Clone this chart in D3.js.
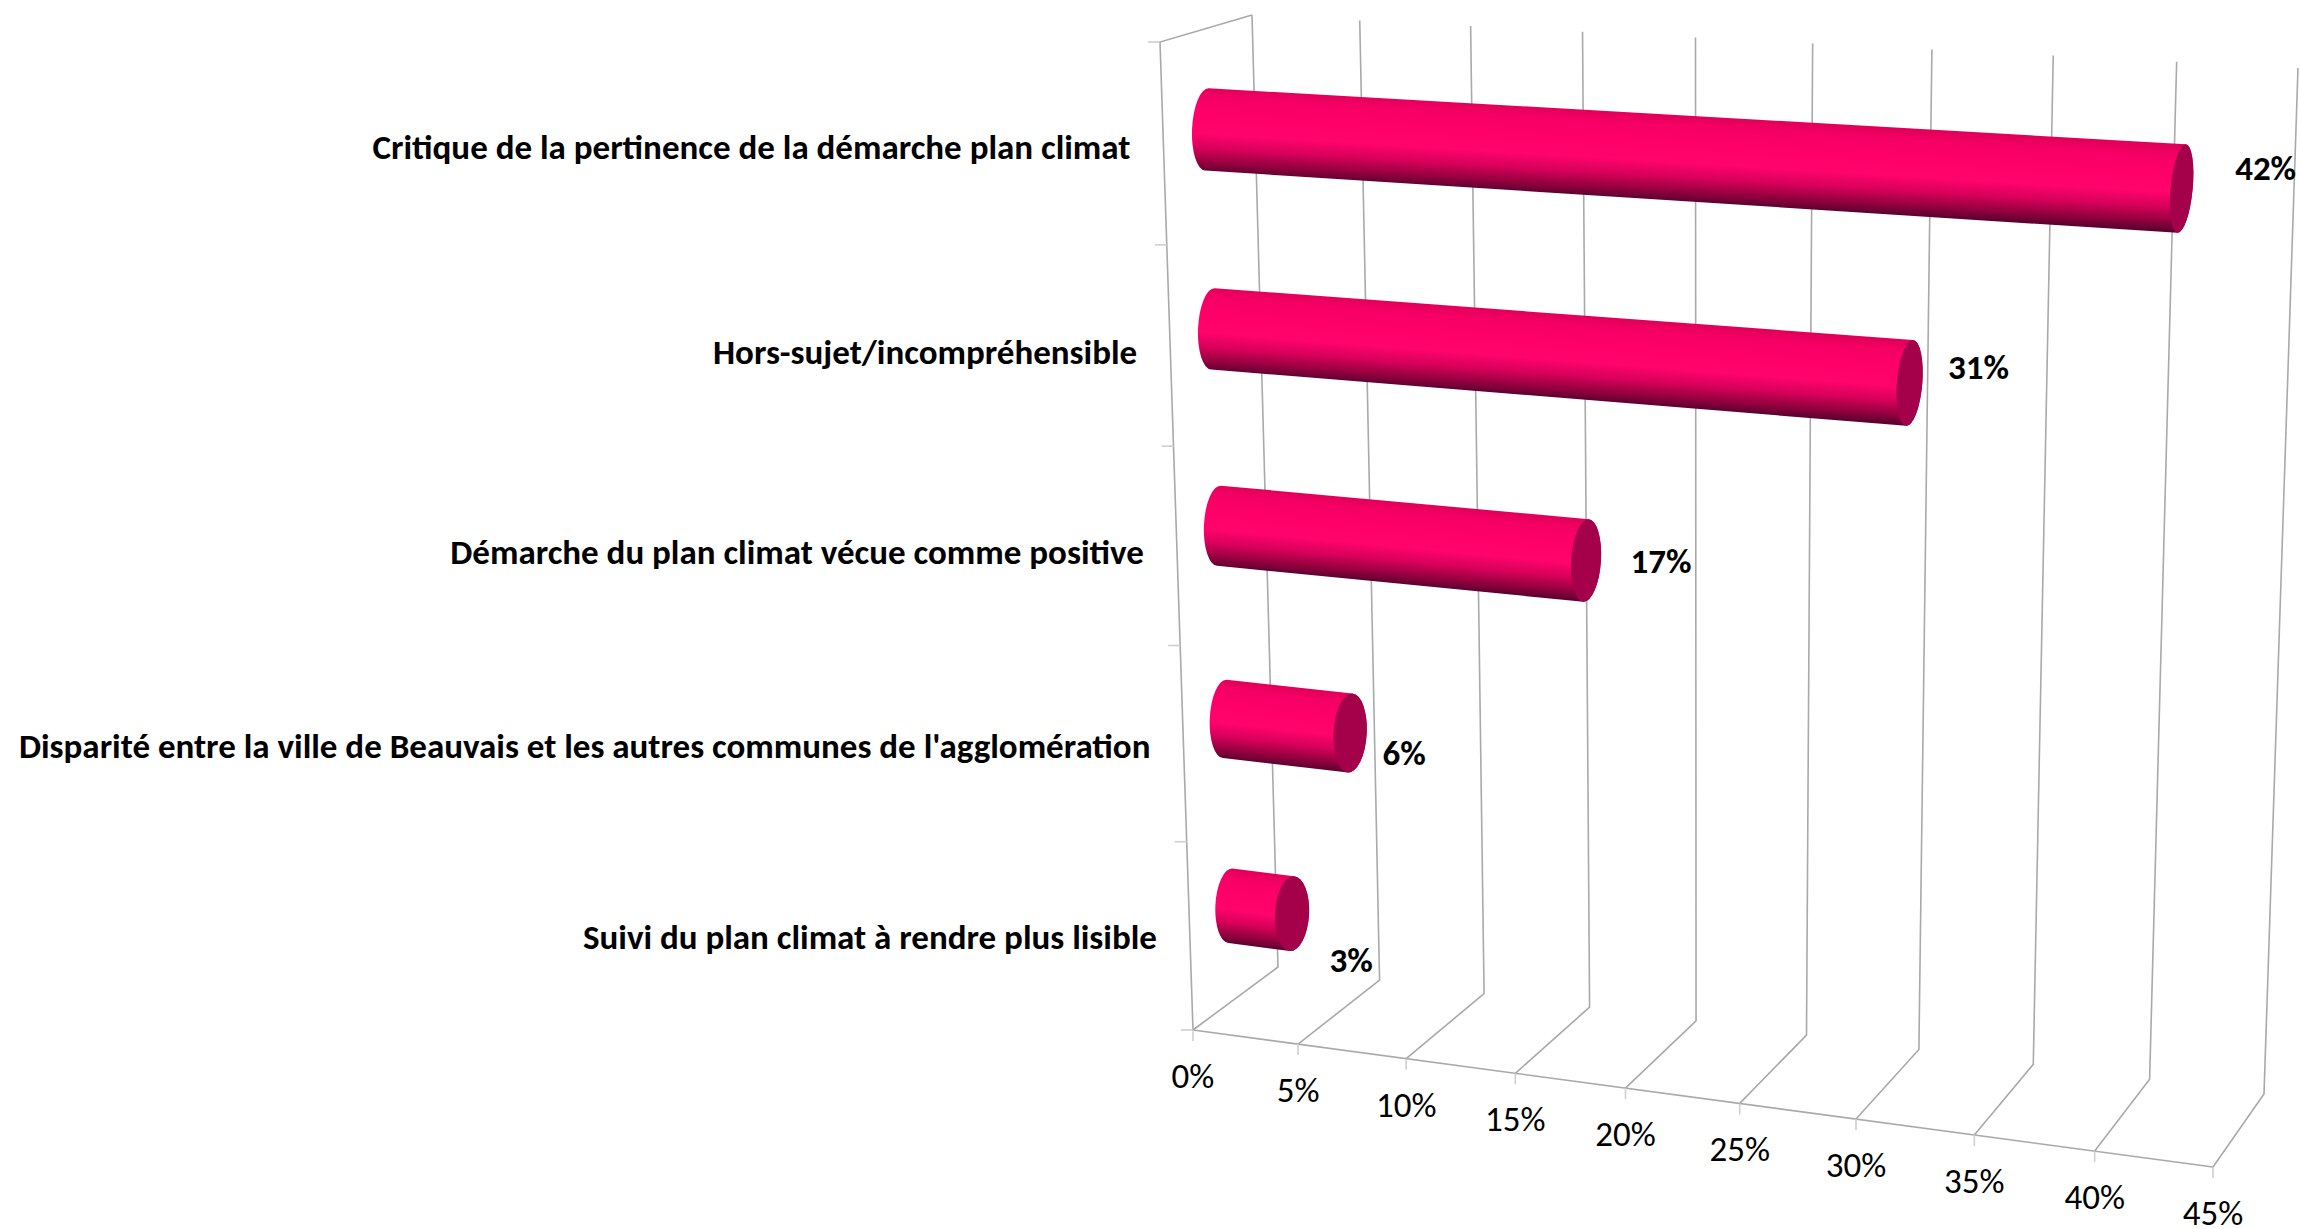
<!DOCTYPE html>
<html><head><meta charset="utf-8">
<script src="https://cdn.jsdelivr.net/npm/d3@7/dist/d3.min.js"></script>
<style>html,body{margin:0;padding:0;background:#fff}svg{display:block}
text{font-family:Carlito,Calibri,Lato,sans-serif;fill:#000}</style></head><body>
<div id="chart"></div>
<script>
const categories = [
  "Critique de la pertinence de la démarche plan climat",
  "Hors-sujet/incompréhensible",
  "Démarche du plan climat vécue comme positive",
  "Disparité entre la ville de Beauvais et les autres communes de l'agglomération",
  "Suivi du plan climat à rendre plus lisible"
];
const values = [42, 31, 17, 6, 3];
const valueTicks = [0, 5, 10, 15, 20, 25, 30, 35, 40, 45];
const W = 2300, H = 1229;

// Oblique projection of the box: each plane is its four screen corners [v0k0, v1k0, v1k1, v0k1]
const floorPlane = [[1193,1030],[2213,1167],[2264,1094],[1278,967]];
const wallPlane  = [[1278,967],[2264,1094],[2298,68],[1252,15]];
const sidePlane  = [[1193,1030],[1278,967],[1252,15],[1160,42]];
const barPlane   = [[1233,993],[2225,1129],[2258,84],[1204,29]];
// Foreshortening along the value axis
const u = d3.scaleLinear().domain(valueTicks).range([0,.103,.209,.316,.424,.536,.650,.766,.884,1]);
const w = d3.scalePow().exponent(1.03).domain([0,5]).range([0,1]);
const wBar = d3.scalePow().exponent(1.045).domain([0,5]).range([0,1]);
const bilerp = (p,a,b) => [0,1].map(i =>
  (1-b)*((1-a)*p[0][i]+a*p[1][i]) + b*((1-a)*p[3][i]+a*p[2][i]));

const svg = d3.select("#chart").append("svg").attr("width",W).attr("height",H);
const defs = svg.append("defs");
const line = d3.line();
const gridC = "#a9a9a9", tickC = "#cfcfcf";

// Grid: floor lines plus back wall verticals
const grid = svg.append("g").attr("fill","none").attr("stroke",gridC).attr("stroke-width",1.6);
grid.selectAll("path.g").data(valueTicks).join("path").attr("class","g")
  .attr("d", v => line([bilerp(floorPlane,u(v),0), bilerp(floorPlane,u(v),1), bilerp(wallPlane,u(v),1)]));
grid.append("path").attr("d", line([bilerp(floorPlane,0,0), bilerp(floorPlane,1,0)]));
grid.append("path").attr("d", line([bilerp(sidePlane,0,0), bilerp(sidePlane,0,1), bilerp(sidePlane,1,1)]));

// Ticks
const ticks = svg.append("g").attr("stroke",tickC).attr("stroke-width",1.6);
ticks.selectAll("line.x").data(valueTicks).join("line").attr("class","x")
  .attr("x1", v => bilerp(floorPlane,u(v),0)[0]).attr("x2", v => bilerp(floorPlane,u(v),0)[0])
  .attr("y1", v => bilerp(floorPlane,u(v),0)[1]).attr("y2", v => bilerp(floorPlane,u(v),0)[1]+11);
ticks.selectAll("line.y").data(d3.range(6)).join("line").attr("class","y")
  .attr("x1", k => bilerp(sidePlane,0,w(k))[0]).attr("x2", k => bilerp(sidePlane,0,w(k))[0]-12)
  .attr("y1", k => bilerp(sidePlane,0,w(k))[1]).attr("y2", k => bilerp(sidePlane,0,w(k))[1]);

// Value axis labels
svg.append("g").attr("font-size",35).attr("text-anchor","middle")
  .selectAll("text").data(valueTicks).join("text")
  .attr("x", v => bilerp(floorPlane,u(v),0)[0]).attr("y", v => bilerp(floorPlane,u(v),0)[1]+58)
  .text(v => v + "%");

// Category labels, hung off the side plane's front edge
const kOf = i => categories.length - 0.5 - i;
const catDy = d3.scaleLinear().domain([0.5,1.5,2.5,3.5,4.5]).range([11,13.5,18,18,15]);
svg.append("g").attr("font-size",35).attr("font-weight",700).attr("text-anchor","end")
  .selectAll("text").data(categories).join("text")
  .attr("x", (d,i) => bilerp(sidePlane,0,w(kOf(i)))[0]-33)
  .attr("y", (d,i) => bilerp(sidePlane,0,w(kOf(i)))[1]+catDy(kOf(i)))
  .text(d => d);

// Cylinders
const R = 0.205, skew = 3;
const rxAt = d3.scaleLinear().domain([0,42]).range([17.5,11]);
const edge = (v,k) => {
  const t = bilerp(barPlane,u(v),wBar(k+R)), b = bilerp(barPlane,u(v),wBar(k-R));
  t[0]+=skew; b[0]-=skew;
  const c = [(t[0]+b[0])/2,(t[1]+b[1])/2];
  const ry = Math.hypot(t[0]-b[0],t[1]-b[1])/2;
  const rot = Math.atan2(t[0]-b[0],b[1]-t[1])*180/Math.PI;
  return {t,b,c,ry,rot};
};
const stops = [[0,"#e00058"],[0.12,"#f50064"],[0.35,"#ff0068"],[0.55,"#ff046c"],[0.72,"#d8005a"],[0.88,"#980040"],[1,"#5e0030"]];
const bars = svg.append("g");
values.forEach((val,i) => {
  const k = kOf(i), L = edge(0,k), Rt = edge(val,k);
  const ax = Rt.c[0]-L.c[0], ay = Rt.c[1]-L.c[1], len = Math.hypot(ax,ay);
  const nx = -ay/len, ny = ax/len, r = (L.ry+Rt.ry)/2, m = [(L.c[0]+Rt.c[0])/2,(L.c[1]+Rt.c[1])/2];
  const g = defs.append("linearGradient").attr("id","cyl"+i).attr("gradientUnits","userSpaceOnUse")
    .attr("x1",m[0]-nx*r).attr("y1",m[1]-ny*r).attr("x2",m[0]+nx*r).attr("y2",m[1]+ny*r);
  g.selectAll("stop").data(stops).join("stop").attr("offset",d=>d[0]).attr("stop-color",d=>d[1]);
  const rxL = 15, rxR = rxAt(val);
  bars.append("path").attr("fill",`url(#cyl${i})`)
    .attr("d",`M${L.t} A${rxL} ${L.ry} ${L.rot} 0 0 ${L.b} L${Rt.b} A${rxR} ${Rt.ry} ${Rt.rot} 0 0 ${Rt.t} Z`);
  bars.append("ellipse").attr("rx",rxR).attr("ry",Rt.ry).attr("fill","#a5004a")
    .attr("transform",`translate(${Rt.c}) rotate(${Rt.rot})`);
});

// Value labels
const ldx = d3.scaleLinear().domain([3,6,17,31,42]).range([59,54,75,69,84]);
const ldy = d3.scaleLinear().domain([0.5,1.5,2.5,3.5,4.5]).range([58,32,13,-4,-8]);
svg.append("g").attr("font-size",35).attr("font-weight",700).attr("text-anchor","middle")
  .selectAll("text").data(values).join("text")
  .attr("x",(d,i)=>edge(d,kOf(i)).c[0]+ldx(d))
  .attr("y",(d,i)=>edge(d,kOf(i)).c[1]+ldy(kOf(i)))
  .text(d=>d+"%");
</script></body></html>
